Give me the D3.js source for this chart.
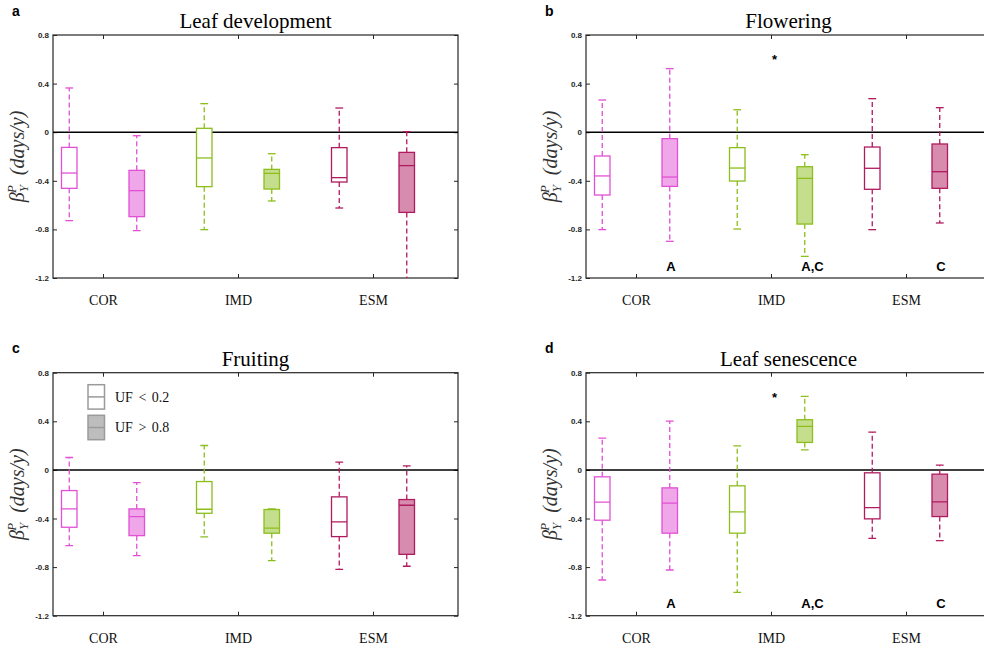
<!DOCTYPE html>
<html>
<head>
<meta charset="utf-8">
<script src="https://cdn.jsdelivr.net/npm/d3@7"></script>
<style>
  html, body { margin: 0; padding: 0; background: #fff; }
  svg { display: block; }
</style>
</head>
<body>
<div id="chart"></div>
<script>
// ---- data -------------------------------------------------------------
// Box statistics per phase, in order:
// COR (UF<0.2), COR (UF>0.8), IMD (UF<0.2), IMD (UF>0.8), ESM (UF<0.2), ESM (UF>0.8)
// each as [lower whisker, q1, median, q3, upper whisker]
const groups = ["COR", "IMD", "ESM"];
const ufClasses = ["UF < 0.2", "UF > 0.8"];
const yTicks = [0.8, 0.4, 0, -0.4, -0.8, -1.2];
const yTickLabels = ["0.8", "0.4", "0", "-0.4", "-0.8", "-1.2"];

const leafDevelopment = [
  [-0.728, -0.462, -0.336, -0.125, 0.364],
  [-0.810, -0.695, -0.481, -0.314, -0.029],
  [-0.802, -0.448, -0.212, 0.032, 0.235],
  [-0.566, -0.468, -0.339, -0.306, -0.177],
  [-0.624, -0.410, -0.374, -0.127, 0.199],
  [-1.350, -0.660, -0.275, -0.166, 0.004]
];
const flowering = [
  [-0.802, -0.517, -0.360, -0.196, 0.265],
  [-0.898, -0.446, -0.369, -0.053, 0.523],
  [-0.797, -0.402, -0.295, -0.127, 0.185],
  [-1.022, -0.756, -0.380, -0.284, -0.185],
  [-0.802, -0.470, -0.297, -0.122, 0.276],
  [-0.747, -0.462, -0.325, -0.097, 0.202]
];
const fruiting = [
  [-0.623, -0.472, -0.321, -0.170, 0.102],
  [-0.705, -0.541, -0.384, -0.321, -0.104],
  [-0.552, -0.357, -0.324, -0.096, 0.201],
  [-0.747, -0.521, -0.480, -0.326, -0.321],
  [-0.818, -0.549, -0.428, -0.222, 0.064],
  [-0.793, -0.695, -0.291, -0.244, 0.033]
];
const leafSenescence = [
  [-0.906, -0.414, -0.266, -0.057, 0.262],
  [-0.824, -0.521, -0.274, -0.148, 0.402],
  [-1.008, -0.521, -0.346, -0.131, 0.198],
  [0.165, 0.226, 0.358, 0.413, 0.605],
  [-0.563, -0.403, -0.310, -0.024, 0.311],
  [-0.582, -0.384, -0.263, -0.035, 0.039]
];

// significance annotations: text, group index (1-based), UF class, y value
const flowerNotes = [
  { text: "A", group: 1, cls: 1, y: -1.14 },
  { text: "A,C", group: 2, cls: 1, y: -1.14 },
  { text: "C", group: 3, cls: 1, y: -1.14 }
];
const senescenceNotes = flowerNotes;
const starValue = 0.62;

const panels = [
  { letter: "a", title: "Leaf development", stats: leafDevelopment, notes: [], star: false, legend: false },
  { letter: "b", title: "Flowering", stats: flowering, notes: flowerNotes, star: true, legend: false },
  { letter: "c", title: "Fruiting", stats: fruiting, notes: [], star: false, legend: true },
  { letter: "d", title: "Leaf senescence", stats: leafSenescence, notes: senescenceNotes, star: true, legend: false }
];

// ---- styling ----------------------------------------------------------
const groupColors = ["#E250D5", "#8CBE1C", "#B01A5E"];
const W = 984, H = 652;
const plotW = 405, plotH = 243;
const lefts = [53, 586], tops = [35, 372.7];
const boxW = 15.5, capW = 7.8;
const serif = "'Liberation Serif', 'DejaVu Serif', serif";
const sans = "'Liberation Sans', Arial, sans-serif";
const axisColor = "#262626";

const svg = d3.select("#chart").append("svg")
  .attr("width", W).attr("height", H)
  .attr("viewBox", `0 0 ${W} ${H}`);
svg.append("rect").attr("width", W).attr("height", H).attr("fill", "#fff");

const defs = svg.append("defs");

panels.forEach((p, i) => {
  const left = lefts[i % 2], top = tops[Math.floor(i / 2)];
  const x = d3.scaleLinear().domain([1 - 50 / 135, 3 + 85 / 135]).range([0, plotW]);
  const y = d3.scaleLinear().domain([-1.2, 0.8]).range([plotH, 0]);

  const g = svg.append("g").attr("transform", `translate(${left},${top})`);

  const clipId = "clip-" + p.letter;
  defs.append("clipPath").attr("id", clipId)
    .append("rect").attr("width", plotW).attr("height", plotH);

  // axes (ticks pointing inward)
  const axL = g.append("g").call(d3.axisLeft(y).tickValues(yTicks)
    .tickFormat((d, k) => yTickLabels[k]).tickSize(-4).tickSizeOuter(0).tickPadding(4));
  const axR = g.append("g").attr("transform", `translate(${plotW},0)`)
    .call(d3.axisRight(y).tickValues(yTicks).tickFormat("").tickSize(-4).tickSizeOuter(0));
  const axT = g.append("g").call(d3.axisTop(x).tickValues([1, 2, 3]).tickFormat("").tickSize(-4).tickSizeOuter(0));
  const axB = g.append("g").attr("transform", `translate(0,${plotH})`)
    .call(d3.axisBottom(x).tickValues([1, 2, 3]).tickFormat((d) => groups[d - 1])
      .tickSize(-4).tickSizeOuter(0).tickPadding(17));

  [axL, axR, axT, axB].forEach(a => {
    a.select(".domain").remove();
    a.selectAll(".tick line").attr("stroke", axisColor).attr("stroke-width", 1);
  });
  axL.selectAll("text").attr("font-family", sans).attr("font-weight", "bold")
    .attr("font-size", 8).attr("fill", axisColor);
  axB.selectAll("text").attr("font-family", serif).attr("font-size", 14).attr("fill", "#111");

  // frame
  g.append("rect").attr("width", plotW).attr("height", plotH)
    .attr("fill", "none").attr("stroke", axisColor).attr("stroke-width", 1.2);

  // zero reference line
  g.append("line").attr("x1", 0).attr("x2", plotW)
    .attr("y1", y(0)).attr("y2", y(0))
    .attr("stroke", "#000").attr("stroke-width", 1.5);

  // boxes
  const boxes = g.append("g").attr("clip-path", `url(#${clipId})`);
  p.stats.forEach((s, k) => {
    const gi = Math.floor(k / 2), cls = k % 2;
    const cx = x(gi + 1 + (cls === 0 ? -0.25 : 0.25));
    const col = groupColors[gi];
    const [lo, q1, med, q3, hi] = s;
    const b = boxes.append("g");
    // whiskers (dashed) and caps
    b.append("line").attr("x1", cx).attr("x2", cx).attr("y1", y(q3)).attr("y2", y(hi))
      .attr("stroke", col).attr("stroke-width", 1.3).attr("stroke-dasharray", "5,3");
    b.append("line").attr("x1", cx).attr("x2", cx).attr("y1", y(q1)).attr("y2", y(lo))
      .attr("stroke", col).attr("stroke-width", 1.3).attr("stroke-dasharray", "5,3");
    [lo, hi].forEach(v => {
      b.append("line").attr("x1", cx - capW / 2).attr("x2", cx + capW / 2)
        .attr("y1", y(v)).attr("y2", y(v))
        .attr("stroke", col).attr("stroke-width", 1.3);
    });
    b.append("rect").attr("x", cx - boxW / 2).attr("width", boxW)
      .attr("y", y(q3)).attr("height", y(q1) - y(q3))
      .attr("fill", cls === 1 ? col : "#fff").attr("fill-opacity", cls === 1 ? 0.5 : 1)
      .attr("stroke", col).attr("stroke-width", 1.3);
    b.append("line").attr("x1", cx - boxW / 2).attr("x2", cx + boxW / 2)
      .attr("y1", y(med)).attr("y2", y(med))
      .attr("stroke", col).attr("stroke-width", 1.3);
  });

  // significance letters
  p.notes.forEach(n => {
    const cx = x(n.group + (n.cls === 0 ? -0.25 : 0.25));
    g.append("text").attr("x", cx - 3.5).attr("y", y(n.y))
      .attr("font-family", sans).attr("font-weight", "bold").attr("font-size", 13)
      .attr("fill", "#000").text(n.text);
  });
  if (p.star) {
    g.append("text").attr("x", x(2) + 3.5).attr("y", y(starValue) + 7)
      .attr("text-anchor", "middle")
      .attr("font-family", sans).attr("font-weight", "bold").attr("font-size", 13)
      .attr("fill", "#000").text("*");
  }

  // title and panel letter
  g.append("text").attr("x", plotW / 2).attr("y", -7).attr("text-anchor", "middle")
    .attr("font-family", serif).attr("font-size", 21).attr("fill", "#000").text(p.title);
  g.append("text").attr("x", -41).attr("y", -19.3)
    .attr("font-family", sans).attr("font-weight", "bold").attr("font-size", 14)
    .attr("fill", "#000").text(p.letter);

  // y-axis label: beta_Y^P (days/y)
  const yl = g.append("text")
    .attr("transform", `translate(-29,${plotH / 2}) rotate(-90)`)
    .attr("text-anchor", "middle")
    .attr("font-family", serif).attr("font-style", "italic").attr("font-size", 20)
    .attr("fill", "#333");
  yl.append("tspan").text("β");
  yl.append("tspan").attr("font-size", 13).attr("dy", 4).text("Y");
  yl.append("tspan").attr("font-size", 13).attr("dx", -8).attr("dy", -12).text("P");
  yl.append("tspan").attr("dy", 8).text("\u2002(days/y)");

  // legend
  if (p.legend) {
    const lg = g.append("g").attr("transform", "translate(35,12)");
    ufClasses.forEach((lab, k) => {
      const yy = k * 30.6;
      lg.append("rect").attr("x", 0).attr("y", yy).attr("width", 16.5).attr("height", 24.4)
        .attr("fill", k === 1 ? "#bdbdbd" : "#fff")
        .attr("stroke", "#9a9a9a").attr("stroke-width", 1.5);
      lg.append("line").attr("x1", 0).attr("x2", 16.5)
        .attr("y1", yy + 12.2).attr("y2", yy + 12.2)
        .attr("stroke", "#9a9a9a").attr("stroke-width", 1.5);
      lg.append("text").attr("x", 27).attr("y", yy + 17)
        .attr("font-family", serif).attr("font-size", 14).attr("word-spacing", 2)
        .attr("fill", "#111").text(lab);
    });
  }
});
</script>
</body>
</html>
